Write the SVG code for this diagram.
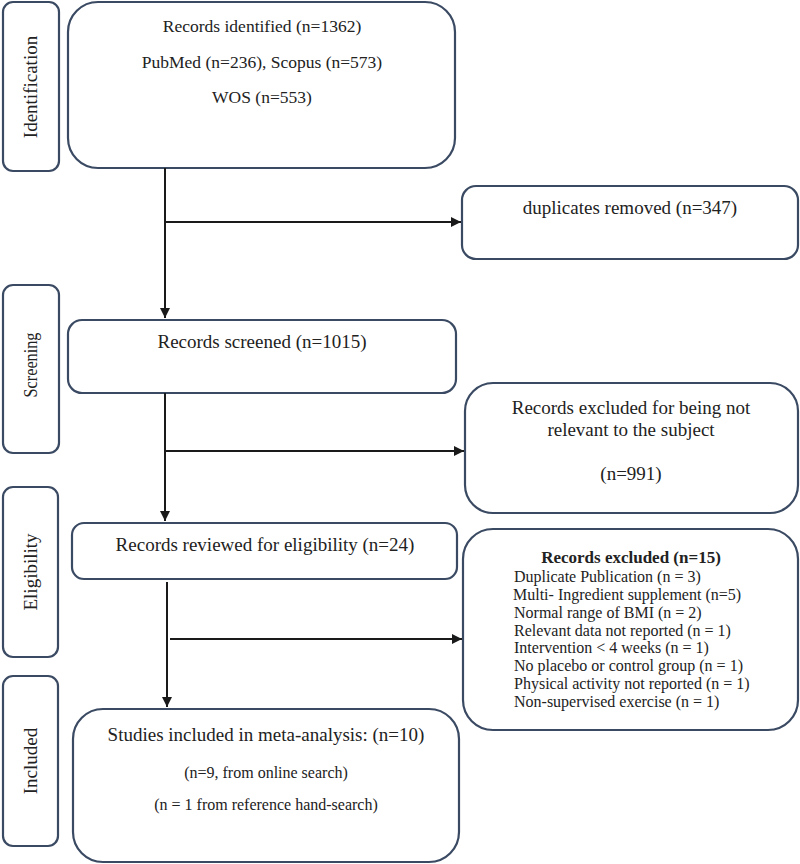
<svg xmlns="http://www.w3.org/2000/svg" width="800" height="864" viewBox="0 0 800 864">
<style>
.box{fill:#fff;stroke:#3b4a63;stroke-width:2.2}
.t{font-family:"Liberation Serif","Times New Roman",serif;fill:#222;font-size:19px}
.m{text-anchor:middle}
.s{font-size:16px}
.c{stroke:#1a1a1a;stroke-width:2;fill:none}
</style>
<defs>
<marker id="ah" viewBox="0 0 10 10" refX="10" refY="5" markerWidth="5" markerHeight="5" orient="auto" markerUnits="strokeWidth">
<path d="M0,0 L10,5 L0,10 z" fill="#1a1a1a"/>
</marker>
</defs>
<rect width="800" height="864" fill="#fff"/>
<g id="lbl-identification"><rect class="box" x="3" y="2" width="56" height="169" rx="10"/><text class="t m" transform="translate(37,87) rotate(-90)">Identification</text></g>
<g id="lbl-screening"><rect class="box" x="3" y="285" width="56" height="168" rx="10"/><text class="t m" transform="translate(37,365) rotate(-90)" textLength="65" lengthAdjust="spacingAndGlyphs">Screening</text></g>
<g id="lbl-eligibility"><rect class="box" x="3" y="487" width="55" height="170" rx="10"/><text class="t m" transform="translate(37,572) rotate(-90)">Eligibility</text></g>
<g id="lbl-included"><rect class="box" x="3" y="676" width="55" height="170" rx="10"/><text class="t m" transform="translate(37,761) rotate(-90)">Included</text></g>
<g id="identified"><rect class="box" x="68" y="2" width="387" height="166" rx="30"/>
<text class="t m" x="262" y="32" style="font-size:17.5px">Records identified (n=1362)</text>
<text class="t m" x="262" y="68" style="font-size:17.5px">PubMed (n=236), Scopus (n=573)</text>
<text class="t m" x="262" y="103" style="font-size:17.5px">WOS (n=553)</text></g>
<g id="duplicates"><rect class="box" x="462" y="186" width="336" height="73" rx="14"/>
<text class="t m" x="630" y="214">duplicates removed (n=347)</text></g>
<g id="screened"><rect class="box" x="68" y="320" width="388" height="73" rx="14"/>
<text class="t m" x="262" y="348">Records screened (n=1015)</text></g>
<g id="excluded1"><rect class="box" x="465" y="383" width="333" height="130" rx="28"/>
<text class="t m" x="631" y="414">Records excluded for being not</text>
<text class="t m" x="631" y="436">relevant to the subject</text>
<text class="t m" x="631" y="480">(n=991)</text></g>
<g id="eligibility"><rect class="box" x="72" y="523" width="385" height="56" rx="12"/>
<text class="t m" x="265" y="551">Records reviewed for eligibility (n=24)</text></g>
<g id="excluded2"><rect class="box" x="463" y="529" width="335" height="201" rx="30"/>
<text class="t m" x="631" y="563" style="font-weight:bold;font-size:17px">Records excluded (n=15)</text>
<text class="t s" x="514" y="582">Duplicate Publication (n = 3)</text>
<text class="t s" x="513" y="600">Multi- Ingredient supplement (n=5)</text>
<text class="t s" x="514" y="618">Normal range of BMI (n = 2)</text>
<text class="t s" x="514" y="636">Relevant data not reported (n = 1)</text>
<text class="t s" x="514" y="653">Intervention &lt; 4 weeks (n = 1)</text>
<text class="t s" x="514" y="671">No placebo or control group (n = 1)</text>
<text class="t s" x="514" y="689">Physical activity not reported (n = 1)</text>
<text class="t s" x="514" y="707">Non-supervised exercise (n = 1)</text>
</g>
<g id="included"><rect class="box" x="73" y="709" width="386" height="153" rx="30"/>
<text class="t m" x="266" y="741">Studies included in meta-analysis: (n=10)</text>
<text class="t m s" x="266" y="778">(n=9, from online search)</text>
<text class="t m s" x="266" y="810">(n = 1 from reference hand-search)</text></g>
<g id="connectors">
<line class="c" x1="165" y1="168" x2="165" y2="318" marker-end="url(#ah)"/>
<line class="c" x1="165" y1="222" x2="461" y2="222" marker-end="url(#ah)"/>
<line class="c" x1="165" y1="393" x2="165" y2="521" marker-end="url(#ah)"/>
<line class="c" x1="165" y1="451" x2="464" y2="451" marker-end="url(#ah)"/>
<line class="c" x1="167" y1="582" x2="167" y2="707" marker-end="url(#ah)"/>
<line class="c" x1="170" y1="639" x2="462" y2="639" marker-end="url(#ah)"/>
</g>
</svg>
